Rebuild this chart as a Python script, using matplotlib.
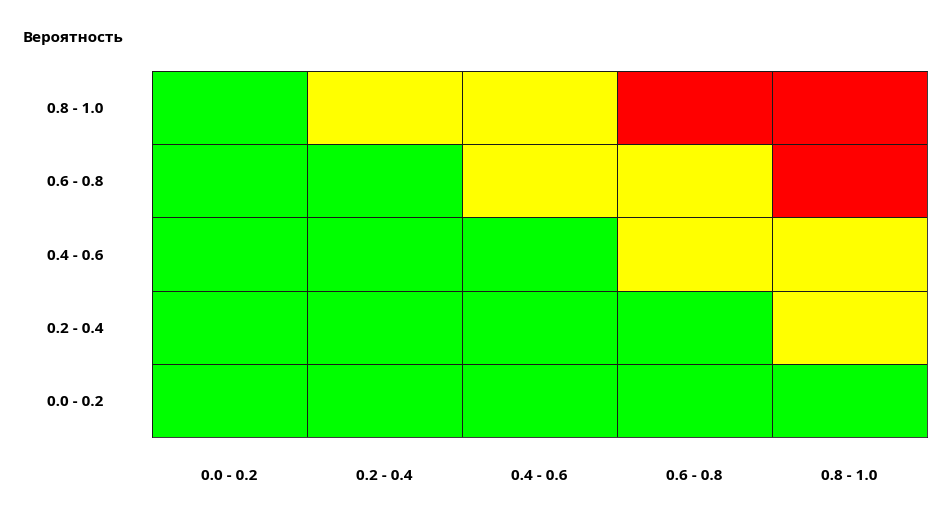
import numpy as np
import matplotlib
matplotlib.use("Agg")
from matplotlib import pyplot as plt
from matplotlib.colors import ListedColormap

# impact ranges (x) and probability ranges (y)
x_labels = ["0.0 - 0.2", "0.2 - 0.4", "0.4 - 0.6", "0.6 - 0.8", "0.8 - 1.0"]
y_labels = ["0.0 - 0.2", "0.2 - 0.4", "0.4 - 0.6", "0.6 - 0.8", "0.8 - 1.0"]
# risk level per cell: 0 = low (green), 1 = medium (yellow), 2 = high (red), rows bottom to top
row_00_02 = [0, 0, 0, 0, 0]
row_02_04 = [0, 0, 0, 0, 1]
row_04_06 = [0, 0, 0, 1, 1]
row_06_08 = [0, 0, 1, 1, 2]
row_08_10 = [0, 1, 1, 2, 2]
y_title = "Вероятность"

levels = np.array([row_00_02, row_02_04, row_04_06, row_06_08, row_08_10])
cmap = ListedColormap(["#00ff00", "#ffff00", "#ff0000"])

plt.rcParams['font.family'] = ['Open Sans', 'DejaVu Sans']
fig = plt.figure(figsize=(9.5, 5.05), dpi=100)
ax = fig.add_axes([152/950, 68/505, 775/950, 366/505])
ax.pcolormesh(levels, cmap=cmap, vmin=0, vmax=2, edgecolors="#1a1a1a", linewidth=0.6)
ax.set_xlim(0, 5)
ax.set_ylim(0, 5)

ax.set_xticks(np.arange(5) + 0.5, x_labels)
ax.set_yticks(np.arange(5) + 0.5, y_labels)
ax.tick_params(axis="x", length=0, pad=23, labelsize=11)
ax.tick_params(axis="y", length=0, pad=35, labelsize=11)
for lbl in ax.get_xticklabels() + ax.get_yticklabels():
    lbl.set_fontweight("bold")
for s in ax.spines.values():
    s.set_color("#1a1a1a")
    s.set_linewidth(0.6)

fig.text(23/950, 1 - 38/505, y_title, fontsize=11, fontweight="bold", va="center", ha="left")

plt.savefig("out.png", dpi=100)
